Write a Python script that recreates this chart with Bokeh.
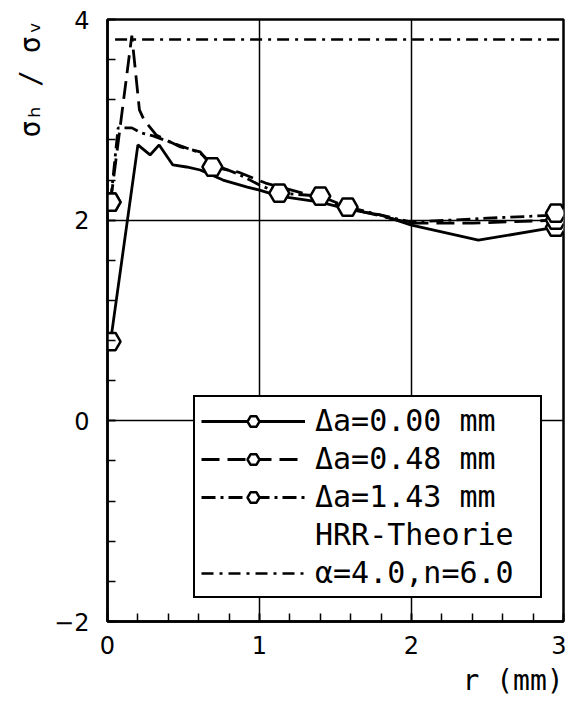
from bokeh.plotting import figure
from bokeh.models import (Range1d, FixedTicker, Legend, LegendItem, Title)
from bokeh.embed import file_html
from bokeh.resources import INLINE
import numpy as np

# ---- data ----
r_a000 = [0.02, 0.20, 0.28, 0.34, 0.43, 0.52, 0.61, 0.76, 0.92, 1.00, 1.13, 1.40, 1.58, 1.80, 2.00, 2.44, 2.95]
s_a000 = [0.79, 2.75, 2.65, 2.75, 2.55, 2.53, 2.50, 2.40, 2.33, 2.30, 2.24, 2.18, 2.11, 2.05, 1.95, 1.80, 1.93]

r_a048 = [0.02, 0.16, 0.21, 0.24, 0.32, 0.48, 0.61, 0.69, 0.86, 1.04, 1.40, 1.58, 1.80, 2.00, 2.40, 2.95]
s_a048 = [2.18, 3.84, 3.10, 3.00, 2.85, 2.73, 2.68, 2.53, 2.48, 2.37, 2.22, 2.12, 2.04, 1.97, 1.97, 2.00]

r_a143 = [0.02, 0.07, 0.16, 0.22, 0.30, 0.48, 0.61, 0.69, 0.86, 1.00, 1.13, 1.40, 1.58, 1.80, 2.00, 2.50, 2.95]
s_a143 = [2.18, 2.92, 2.92, 2.87, 2.84, 2.74, 2.67, 2.56, 2.46, 2.35, 2.27, 2.24, 2.13, 2.05, 1.98, 2.02, 2.05]

mk_r_a000 = [0.02, 2.95]
mk_s_a000 = [0.79, 1.93]
mk_r_a048 = [0.02, 0.69, 1.40, 2.95]
mk_s_a048 = [2.18, 2.53, 2.24, 2.00]
mk_r_a143 = [0.02, 1.13, 1.58, 2.95]
mk_s_a143 = [2.18, 2.27, 2.13, 2.07]

hrr_r = [0.05, 3.0]
hrr_s = [3.80, 3.80]

labels = ["Δa=0.00 mm", "Δa=0.48 mm", "Δa=1.43 mm", "HRR-Theorie", "α=4.0,n=6.0"]
x_ticks = [0, 1, 2, 3]
y_ticks = [-2, 0, 2, 4]

p = figure(width=566, height=709, output_backend="svg", toolbar_location=None,
           x_range=Range1d(0, 3), y_range=Range1d(-2, 4),
           min_border_left=107, min_border_right=3, min_border_top=19, min_border_bottom=88)
p.xaxis.axis_label = None
p.yaxis.axis_label = None

FONT = "DejaVu Sans"
MONO = "DejaVu Sans Mono"

xt = FixedTicker(ticks=x_ticks, minor_ticks=list(np.round(np.arange(0, 3.01, 0.2), 2)))
yt = FixedTicker(ticks=y_ticks, minor_ticks=list(np.round(np.arange(-2, 4.01, 0.4), 2)))
p.xaxis.ticker = xt
p.yaxis.ticker = yt
p.xgrid.ticker = FixedTicker(ticks=x_ticks)
p.ygrid.ticker = FixedTicker(ticks=y_ticks)

for ax in (p.xaxis[0], p.yaxis[0]):
    ax.axis_line_color = "black"
    ax.axis_line_width = 2.5
    ax.major_tick_in = 8
    ax.major_tick_out = 0
    ax.minor_tick_in = 8
    ax.minor_tick_out = 0
    ax.major_tick_line_color = "black"
    ax.minor_tick_line_color = "black"
    ax.major_tick_line_width = 1.5
    ax.minor_tick_line_width = 1.5
    ax.major_label_text_font = FONT
    ax.major_label_text_font_size = "24px"
    ax.major_label_text_color = "black"

p.xaxis.major_label_standoff = 14
p.xaxis.major_label_text_align = "right"
p.yaxis.major_label_standoff = 18

for g in (p.xgrid[0], p.ygrid[0]):
    g.grid_line_color = "black"
    g.grid_line_width = 1.5
    g.grid_line_alpha = 1.0

p.outline_line_color = "black"
p.outline_line_width = 2.5
p.outline_line_alpha = 1.0
p.background_fill_color = "white"
p.border_fill_color = "white"

# HRR theory line
hrr = p.line(hrr_r, hrr_s, line_color="black", line_width=2.5, line_dash="12 6 3 6")

# series
l0 = p.line(r_a000, s_a000, line_color="black", line_width=2.8)
l1 = p.line(r_a048, s_a048, line_color="black", line_width=2.8, line_dash="18 8")
l2 = p.line(r_a143, s_a143, line_color="black", line_width=2.8, line_dash="14 5 3 5")

mk = dict(marker="hex", size=20, line_color="black", line_width=2.5, fill_color="white")
m0 = p.scatter(mk_r_a000, mk_s_a000, **mk)
m1 = p.scatter(mk_r_a048, mk_s_a048, **mk)
m2 = p.scatter(mk_r_a143, mk_s_a143, **mk)

legend = Legend(items=[
    LegendItem(label=labels[0], renderers=[l0, m0]),
    LegendItem(label=labels[1], renderers=[l1, m1]),
    LegendItem(label=labels[2], renderers=[l2, m2]),
    LegendItem(label=labels[3], renderers=[]),
    LegendItem(label=labels[4], renderers=[hrr]),
], location=(86, 23), margin=0, padding=6, spacing=3,
   glyph_width=104, glyph_height=30, label_height=30, label_width=219, label_standoff=10,
   label_text_font=MONO, label_text_font_size="30px", label_text_color="black",
   border_line_color="black", border_line_width=2.5, border_line_alpha=1.0,
   background_fill_color="white", background_fill_alpha=1.0)
p.add_layout(legend, "center")

p.add_layout(Title(text="σₕ / σᵥ", align="right", text_font=MONO, text_font_size="28px",
                   text_font_style="normal", text_color="black"), "left")
p.add_layout(Title(text="r  (mm)", align="right", offset=-17, text_font=MONO, text_font_size="28px",
                   text_font_style="normal", text_color="black"), "below")

open("out.html", "w").write(file_html(p, INLINE))
